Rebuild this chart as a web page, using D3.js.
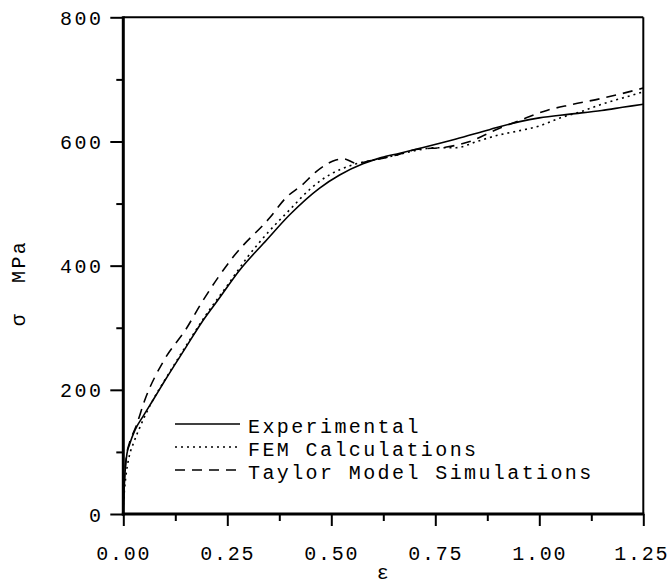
<!DOCTYPE html>
<html><head><meta charset="utf-8">
<script src="https://cdn.jsdelivr.net/npm/d3@7/dist/d3.min.js"></script>
<style>
html,body{margin:0;padding:0;background:#fff;}
text{font-family:"Liberation Mono","Courier New",monospace;font-size:20px;letter-spacing:2.4px;fill:#000;white-space:pre;}
</style></head>
<body><svg id="c" width="671" height="584"></svg>
<script>
const xTicks = [0, 0.25, 0.5, 0.75, 1.0, 1.25];
const xTickLabels = ["0.00","0.25","0.50","0.75","1.00","1.25"];
const yTicks = [0, 200, 400, 600, 800];
const yTickLabels = ["0","200","400","600","800"];
const seriesNames = ["Experimental","FEM Calculations","Taylor Model Simulations"];

const expX = [0,0.002,0.005,0.009,0.015,0.028,0.05,0.072,0.1,0.15,0.19,0.228,0.28,0.344,0.4,0.472,0.52,0.576,0.62,0.665,0.713,0.8,0.88,0.953,1.0,1.074,1.15,1.2,1.25];
const expY = [0,40,75,98,112,135,160,184,215,268,310,345,393,441,482,525,546,564,574,581,589,604,619,632,638,644,650,655,660];

const femX = [0,0.003,0.008,0.015,0.025,0.04,0.07,0.1,0.15,0.2,0.25,0.3,0.35,0.4,0.45,0.5,0.55,0.6,0.65,0.7,0.75,0.8,0.85,0.9,0.95,1.0,1.05,1.1,1.15,1.2,1.25];
const femY = [15,40,70,95,115,140,182,216,270,322,368,415,455,490,524,548,562,570,577,585,590,590,600,610,617,625,638,648,660,670,680];

const taylorX = [0,0.003,0.008,0.015,0.03,0.052,0.1,0.15,0.188,0.264,0.353,0.392,0.43,0.463,0.511,0.53,0.56,0.6,0.656,0.703,0.777,0.833,0.9,0.953,1.018,1.074,1.154,1.25];
const taylorY = [20,60,95,115,140,184,250,297,340,414,478,510,530,551,570,572,565,570,578,587,591,600,620,634,650,659,670,686];

const xMinorTicks = [0.125,0.375,0.625,0.875,1.125];
const yMinorTicks = [100,300,500,700];

const svg = d3.select("#c");
const L = 123.3, R = 643.3, T = 17.3, B = 514;
const x = d3.scaleLinear().domain([0,1.25]).range([L,R]);
const y = d3.scaleLinear().domain([0,800]).range([B,T]);

svg.append("clipPath").attr("id","clip").append("rect").attr("x",L).attr("y",T).attr("width",R-L).attr("height",B-T);

// minor ticks
const gxm = svg.append("g").attr("transform",`translate(0,${B})`)
  .call(d3.axisBottom(x).tickValues(xMinorTicks).tickFormat("").tickSize(7));
gxm.select(".domain").remove();
gxm.selectAll("line").attr("stroke","#000").attr("stroke-width",2);
const gym = svg.append("g").attr("transform",`translate(${L},0)`)
  .call(d3.axisLeft(y).tickValues(yMinorTicks).tickFormat("").tickSize(7));
gym.select(".domain").remove();
gym.selectAll("line").attr("stroke","#000").attr("stroke-width",2);

// x axis
const xAxis = d3.axisBottom(x).tickValues(xTicks).tickFormat((d,i)=>xTickLabels[i]).tickSize(12).tickPadding(22);
const gx = svg.append("g").attr("transform",`translate(0,${B})`).call(xAxis);
gx.select(".domain").remove();
gx.selectAll("line").attr("stroke","#000").attr("stroke-width",2);
gx.selectAll("text").attr("font-size",null).attr("font-family",null).attr("dy","0").attr("y",46)
  .style("letter-spacing","1.8px")
  .attr("dx",(d,i)=> i===xTicks.length-1 ? -2 : 0);

// y axis
const yAxis = d3.axisLeft(y).tickValues(yTicks).tickFormat((d,i)=>yTickLabels[i]).tickSize(13).tickPadding(10);
const gy = svg.append("g").attr("transform",`translate(${L},0)`).call(yAxis);
gy.select(".domain").remove();
gy.selectAll("line").attr("stroke","#000").attr("stroke-width",2);
gy.selectAll("text").attr("font-size",null).attr("font-family",null).attr("dy","0.35em").attr("x",-20);

// frame
svg.append("line").attr("x1",L).attr("x2",R).attr("y1",T).attr("y2",T).attr("stroke","#000").attr("stroke-width",2);
svg.append("line").attr("x1",R).attr("x2",R).attr("y1",T).attr("y2",B).attr("stroke","#000").attr("stroke-width",2);
svg.append("line").attr("x1",L).attr("x2",L).attr("y1",T-1).attr("y2",B+1.5).attr("stroke","#000").attr("stroke-width",3);
svg.append("line").attr("x1",L-1.5).attr("x2",R+1).attr("y1",B).attr("y2",B).attr("stroke","#000").attr("stroke-width",3);

// curves
const styles = [null, "2,4", "10,7"];
const series = [[expX,expY],[femX,femY],[taylorX,taylorY]];
const line = d3.line().x(d=>x(d[0])).y(d=>y(d[1])).curve(d3.curveMonotoneX);
const g = svg.append("g").attr("clip-path","url(#clip)");
series.forEach((s,i)=>{
  const pts = s[0].map((v,j)=>[v,s[1][j]]);
  const p = g.append("path").datum(pts).attr("d",line).attr("fill","none").attr("stroke","#000").attr("stroke-width",1.6);
  if(styles[i]) p.attr("stroke-dasharray",styles[i]);
});

// legend
const rowY = [424,447,470];
seriesNames.forEach((n,i)=>{
  const l = svg.append("line").attr("x1",175).attr("x2",240).attr("y1",rowY[i]).attr("y2",rowY[i]).attr("stroke","#000").attr("stroke-width",1.6);
  if(styles[i]) l.attr("stroke-dasharray",styles[i]);
  svg.append("text").attr("x",248).attr("y",rowY[i]+8.5).text(n);
});

// axis labels
svg.append("text").attr("x",384).attr("y",579).attr("text-anchor","middle").text("ε");
svg.append("text").attr("transform","translate(25,283) rotate(-90)").attr("text-anchor","middle").text("σ\u00a0\u00a0MPa");
</script></body></html>
